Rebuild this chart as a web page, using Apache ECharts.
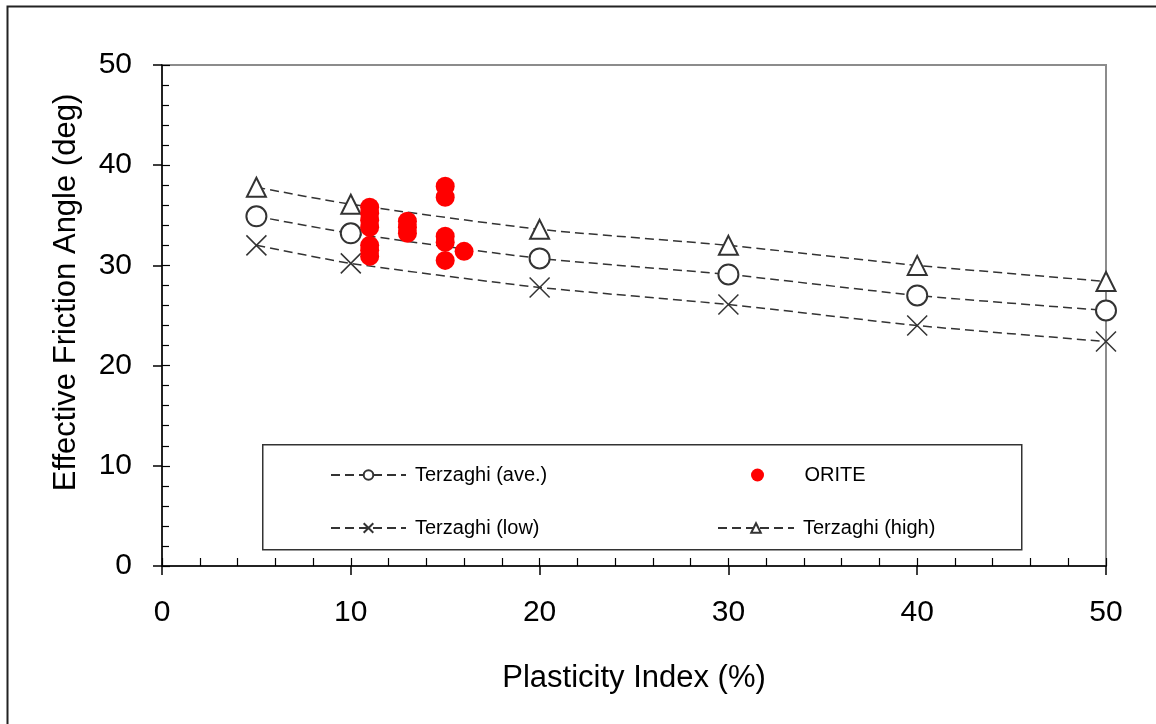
<!DOCTYPE html>
<html>
<head>
<meta charset="utf-8">
<script src="https://cdn.jsdelivr.net/npm/echarts@6/dist/echarts.min.js"></script>
<style>html,body{margin:0;padding:0;background:#fff;}#c{width:1156px;height:724px;}</style>
</head>
<body>
<div id="c"></div>
<script>
const piX = [5, 10, 20, 30, 40, 50];
const aveY = [34.9, 33.2, 30.7, 29.1, 27.0, 25.5];
const lowY = [32.0, 30.2, 27.8, 26.1, 24.0, 22.4];
const highY = [37.8, 36.1, 33.6, 32.0, 30.0, 28.4];
const oriteX = [11, 11, 11, 11, 11, 11, 11, 13, 13, 13, 15, 15, 15, 15, 15, 16];
const oriteY = [35.8, 35.2, 34.5, 33.8, 32.0, 31.5, 30.9, 34.4, 33.8, 33.2, 37.9, 36.8, 32.9, 32.3, 30.5, 31.4];
const xTicks = [0, 10, 20, 30, 40, 50];
const yTicks = [0, 10, 20, 30, 40, 50];

const FONT = 'Liberation Sans, Arial, sans-serif';
const pairs = (xs, ys) => xs.map((x, i) => [x, ys[i]]);
const lineStyle = {color: '#333', width: 1.5, type: [9, 5]};
const xPath = 'path://M0 0L20 20M20 0L0 20';

const chart = echarts.init(document.getElementById('c'), null, {renderer: 'canvas'});
const axisBase = {
  type: 'value', min: xTicks[0], max: xTicks[xTicks.length - 1], interval: 10,
  splitLine: {show: false}
};
const legendText = {fontSize: 20, fontFamily: FONT, color: '#000', padding: [0, 0, 0, 4]};
const option = {
  backgroundColor: '#fff',
  animation: false,
  grid: {left: 162, right: 50, top: 65, bottom: 158, show: true, borderColor: '#8c8c8c', borderWidth: 2, backgroundColor: 'transparent'},
  xAxis: [
    Object.assign({}, axisBase, {
      position: 'bottom',
      name: 'Plasticity Index (%)', nameLocation: 'middle', nameGap: 97,
      nameTextStyle: {fontSize: 31, fontFamily: FONT, color: '#000'},
      axisLine: {show: true, lineStyle: {color: '#000', width: 1.5}},
      axisTick: {show: true, length: 9, lineStyle: {color: '#000', width: 1.5}},
      axisLabel: {fontSize: 30, fontFamily: FONT, color: '#000', margin: 32, formatter: v => xTicks.includes(v) ? String(v) : ''}
    }),
    Object.assign({}, axisBase, {
      position: 'bottom',
      axisLine: {show: false},
      axisTick: {show: true, inside: true, length: 8, lineStyle: {color: '#000', width: 1.2}},
      minorTick: {show: true, splitNumber: 5, length: 8, lineStyle: {color: '#000', width: 1.2}},
      axisLabel: {show: false}
    })
  ],
  yAxis: [
    Object.assign({}, axisBase, {
      min: yTicks[0], max: yTicks[yTicks.length - 1],
      position: 'left',
      name: 'Effective Friction Angle (deg)', nameLocation: 'middle', nameGap: 80,
      nameTextStyle: {fontSize: 31, fontFamily: FONT, color: '#000', padding: [0, 0, 0, 46]},
      axisLine: {show: true, lineStyle: {color: '#000', width: 1.5}},
      axisTick: {show: true, length: 9, lineStyle: {color: '#000', width: 1.5}},
      axisLabel: {fontSize: 30, fontFamily: FONT, color: '#000', margin: 30, formatter: v => yTicks.includes(v) ? String(v) : ''}
    }),
    Object.assign({}, axisBase, {
      min: yTicks[0], max: yTicks[yTicks.length - 1],
      position: 'left',
      axisLine: {show: false},
      axisTick: {show: true, inside: true, length: 8, lineStyle: {color: '#000', width: 1.2}},
      minorTick: {show: true, splitNumber: 5, length: 7, lineStyle: {color: '#000', width: 1.2}},
      axisLabel: {show: false}
    })
  ],
  legend: [
    {data: ['Terzaghi (ave.)'], left: 330, top: 465, padding: 0, itemWidth: 75, itemHeight: 12, textStyle: legendText},
    {data: ['Terzaghi (low)'], left: 330, top: 518, padding: 0, itemWidth: 75, itemHeight: 12, textStyle: legendText},
    {data: ['ORITE'], left: 751, top: 465, padding: 0, itemWidth: 76, itemHeight: 13, textStyle: legendText},
    {data: ['Terzaghi (high)'], left: 717, top: 518, padding: 0, itemWidth: 76, itemHeight: 12, textStyle: legendText}
  ],
  graphic: [
    {type: 'rect', left: 5, top: 4, shape: {width: 1300, height: 900}, style: {fill: 'none', stroke: '#222', lineWidth: 2}, silent: true},
    {type: 'rect', left: 262, top: 444, shape: {width: 759, height: 105}, style: {fill: '#fff', stroke: '#333', lineWidth: 1.5}, z: 1}
  ],
  series: [
    {name: 'Terzaghi (ave.)', type: 'line', data: pairs(piX, aveY), smooth: 0.2,
     symbol: 'emptyCircle', symbolSize: 20, lineStyle: lineStyle,
     itemStyle: {color: '#333', borderColor: '#333', borderWidth: 1.5}, z: 3},
    {name: 'Terzaghi (low)', type: 'line', data: pairs(piX, lowY), smooth: 0.2,
     symbol: xPath, symbolSize: 20, lineStyle: lineStyle,
     itemStyle: {color: '#333', borderColor: '#333', borderWidth: 1.5}, z: 3},
    {name: 'Terzaghi (high)', type: 'line', data: pairs(piX, highY), smooth: 0.2,
     symbol: 'emptyTriangle', symbolSize: 19, lineStyle: lineStyle,
     itemStyle: {color: '#333', borderColor: '#333', borderWidth: 1.5}, z: 3},
    {name: 'ORITE', type: 'scatter', data: pairs(oriteX, oriteY),
     symbol: 'circle', symbolSize: 19, itemStyle: {color: '#ff0000', opacity: 1}, z: 4}
  ]
};
chart.setOption(option);
</script>
</body>
</html>
